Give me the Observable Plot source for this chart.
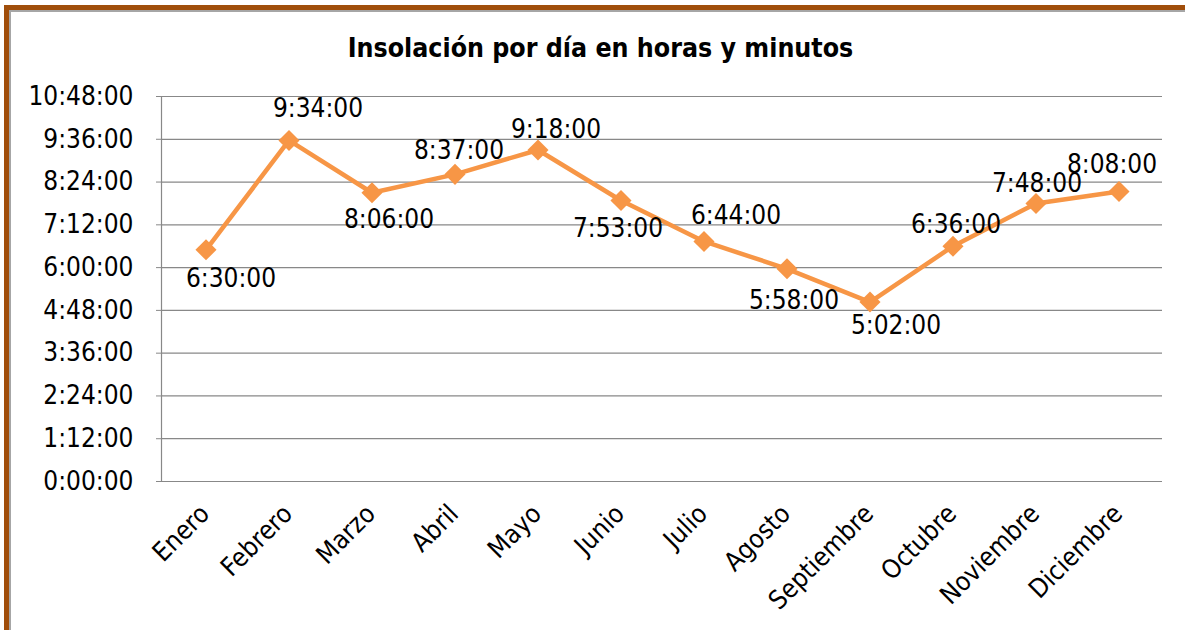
<!DOCTYPE html>
<html>
<head>
<meta charset="utf-8">
<script src="https://cdn.jsdelivr.net/npm/d3@7"></script>
<script src="https://cdn.jsdelivr.net/npm/@observablehq/plot@0.6"></script>
<style>
  html, body { margin: 0; padding: 0; background: #fff; }
  #wrap { position: relative; width: 1185px; height: 630px; overflow: hidden; background: #fff; }
  .brown-top { position: absolute; left: 4px; top: 5px; width: 1181px; height: 5px; background: #A04E0B; }
  .brown-left { position: absolute; left: 4px; top: 5px; width: 5px; height: 625px; background: #A04E0B; }
  .gray-top { position: absolute; left: 9px; top: 10px; width: 1176px; height: 2px; background: #A6A6A6; }
  .gray-left { position: absolute; left: 9px; top: 10px; width: 2px; height: 620px; background: #A6A6A6; }
  #title { position: absolute; left: 0; top: 0; width: 1185px; height: 72px; box-sizing: border-box; padding-left: 16px;
           text-align: center; font-family: "DejaVu Sans Condensed", "DejaVu Sans", sans-serif; font-stretch: condensed;
           font-weight: bold; font-size: 26.5px; line-height: 26px; padding-top: 35px; color: #000; }
  #chart { position: absolute; left: 0; top: 72px; }
</style>
</head>
<body>
<div id="wrap">
  <div class="brown-top"></div>
  <div class="brown-left"></div>
  <div class="gray-top"></div>
  <div class="gray-left"></div>
  <div id="title">Insolación por día en horas y minutos</div>
  <div id="chart"></div>
</div>
<script>
// Data: months and daily sunshine in minutes
const months = ["Enero","Febrero","Marzo","Abril","Mayo","Junio","Julio","Agosto","Septiembre","Octubre","Noviembre","Diciembre"];
const minutes = [390, 574, 486, 517, 558, 473, 404, 358, 302, 396, 468, 488];
const yTicks = [0, 72, 144, 216, 288, 360, 432, 504, 576, 648];
// label placement offsets (style)
const labelDx = [25, 29, 17, 4, 18, -3, 32, 7, 26, 3, 1, -7];
const labelDy = [29, -32, 27, -24, -20, 28, -26, 32, 24, -22, -20, -27];

const fmt = m => `${Math.floor(m / 60)}:${String(m % 60).padStart(2, "0")}:00`;
const data = months.map((month, i) => ({month, value: minutes[i], dx: labelDx[i], dy: labelDy[i]}));

const font = "'DejaVu Sans Condensed', 'DejaVu Sans', sans-serif";
const chart = Plot.plot({
  width: 1185,
  height: 558,
  marginTop: 24,
  marginBottom: 149,
  marginLeft: 161,
  marginRight: 23,
  style: {fontFamily: font, fontSize: "26px", fontStretch: "condensed", color: "#000", background: "transparent"},
  x: {type: "band", domain: months, padding: 0, label: null},
  y: {domain: [0, 648], label: null},
  marks: [
    Plot.ruleY(yTicks, {stroke: "#888", strokeWidth: 1.2, strokeOpacity: 1}),
    Plot.frame({anchor: "left", stroke: "#888", strokeWidth: 1.2}),
    Plot.axisY({ticks: yTicks, tickFormat: fmt, tickSize: 5, tickPadding: 23, stroke: "#888", fontSize: 26, label: null}),
    Plot.axisX({tickRotate: -45, tickSize: 0, tickPadding: 28, dx: -1, fontSize: 26, label: null}),
    Plot.line(data, {x: "month", y: "value", stroke: "#F79646", strokeWidth: 4.5}),
    Plot.dot(data, {x: "month", y: "value", symbol: "diamond2", r: 9.5, fill: "#F79646", stroke: "none"}),
    ...data.map(d => Plot.text([d], {x: "month", y: "value", text: e => fmt(e.value), dx: d.dx, dy: d.dy, fontSize: 26, fill: "#000"}))
  ]
});
document.getElementById("chart").appendChild(chart);
</script>
</body>
</html>
